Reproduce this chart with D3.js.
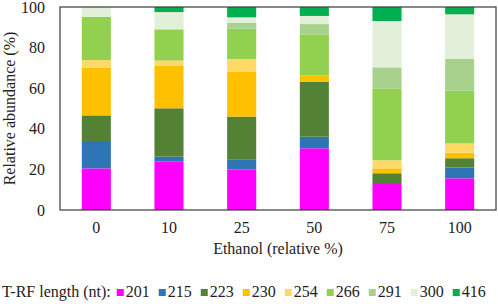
<!DOCTYPE html>
<html>
<head>
<meta charset="utf-8">
<script src="https://cdn.jsdelivr.net/npm/d3@7"></script>
<style>
  body { margin: 0; background: #fff; }
</style>
</head>
<body>
<div id="main-container"></div>
<script>
// Data
const ETHANOL = ['0', '10', '25', '50', '75', '100'];
const TRF = ['201', '215', '223', '230', '254', '266', '291', '300', '416'];
const COLORS = ['#ff00ff', '#2e75b6', '#548235', '#ffc000', '#ffd966', '#92d050', '#a9d18e', '#e2f0d9', '#00b050'];
// relative abundance (%) per T-RF, one value per ethanol level
const T201 = [20.5, 23.8, 19.9, 30.4, 12.8, 15.6];
const T215 = [13.5, 2.5, 5.1, 5.7, 0, 5.3];
const T223 = [12.6, 23.8, 21.0, 27.1, 5.3, 4.6];
const T230 = [23.5, 21.0, 22.0, 3.0, 2.1, 2.7];
const T254 = [3.8, 2.5, 6.4, 0, 4.3, 4.6];
const T266 = [21.3, 15.4, 14.9, 20.3, 35.4, 26.1];
const T291 = [0, 0, 3.0, 5.1, 10.4, 15.6];
const T300 = [4.8, 8.5, 2.6, 4.0, 22.8, 21.9];
const T416 = [0, 2.5, 5.1, 4.4, 6.9, 3.6];
const Y_TICKS = [0, 20, 40, 60, 80, 100];

const SERIES = [T201, T215, T223, T230, T254, T266, T291, T300, T416];
const W = 498, H = 304;
const PLOT = { left: 60, right: 496, top: 7, bottom: 210 };
const FONT = '"Liberation Serif"';
const FS = 16;

// put the serif face on each text node itself
const serif = sel => sel.attr('font-family', FONT).attr('font-size', FS).attr('fill', '#222');

const rows = ETHANOL.map((e, i) => {
    const row = { ethanol: e };
    TRF.forEach((t, j) => row[t] = SERIES[j][i]);
    return row;
});
const stacked = d3.stack().keys(TRF)(rows);

const svg = d3.select('#main-container').append('svg')
    .attr('width', W)
    .attr('height', H);

const x = d3.scaleBand()
    .domain(ETHANOL)
    .range([PLOT.left, PLOT.right])
    .paddingInner(0.6)
    .paddingOuter(0.3);
const y = d3.scaleLinear()
    .domain([0, 100])
    .range([PLOT.bottom, PLOT.top]);
const color = d3.scaleOrdinal().domain(TRF).range(COLORS);

// Bars
svg.append('g').selectAll('g')
    .data(stacked).enter()
    .append('g')
    .attr('fill', d => color(d.key))
    .selectAll('rect')
    .data(d => d).enter()
    .append('rect')
    .attr('x', d => x(d.data.ethanol))
    .attr('y', d => y(d[1]))
    .attr('width', x.bandwidth())
    .attr('height', d => y(d[0]) - y(d[1]));

// Axes
const xAxis = svg.append('g')
    .attr('transform', `translate(0, ${PLOT.bottom})`)
    .call(d3.axisBottom(x).tickSize(0).tickPadding(12));
const yAxis = svg.append('g')
    .attr('transform', `translate(${PLOT.left}, 0)`)
    .call(d3.axisLeft(y).tickValues(Y_TICKS).tickSize(0).tickPadding(15));
[xAxis, yAxis].forEach(a => {
    a.attr('font-family', null).attr('font-size', null);
    a.select('.domain').remove();
    a.selectAll('text').call(serif);
});

// Frame
svg.append('rect')
    .attr('x', PLOT.left)
    .attr('y', PLOT.top)
    .attr('width', PLOT.right - PLOT.left)
    .attr('height', PLOT.bottom - PLOT.top)
    .attr('fill', 'none')
    .attr('stroke', '#3a3a3a')
    .attr('stroke-width', 1.2);

// Axis titles
svg.append('text')
    .attr('x', (PLOT.left + PLOT.right) / 2)
    .attr('y', 254)
    .attr('text-anchor', 'middle')
    .call(serif)
    .text('Ethanol (relative %)');
svg.append('text')
    .attr('transform', `translate(15, ${(PLOT.top + PLOT.bottom) / 2}) rotate(-90)`)
    .attr('text-anchor', 'middle')
    .call(serif)
    .text('Relative abundance (%)');

// Legend
const legend = svg.append('g').attr('transform', 'translate(2, 297)');
const label = legend.append('text')
    .call(serif)
    .text('T-RF length (nt):');
let lx = label.node().getComputedTextLength() + 6;
TRF.forEach(t => {
    legend.append('rect')
        .attr('x', lx)
        .attr('y', -8)
        .attr('width', 7)
        .attr('height', 7)
        .attr('fill', color(t));
    const tx = legend.append('text')
        .attr('x', lx + 9)
        .call(serif)
        .text(t);
    lx += 9 + tx.node().getComputedTextLength() + 9;
});
</script>
</body>
</html>
